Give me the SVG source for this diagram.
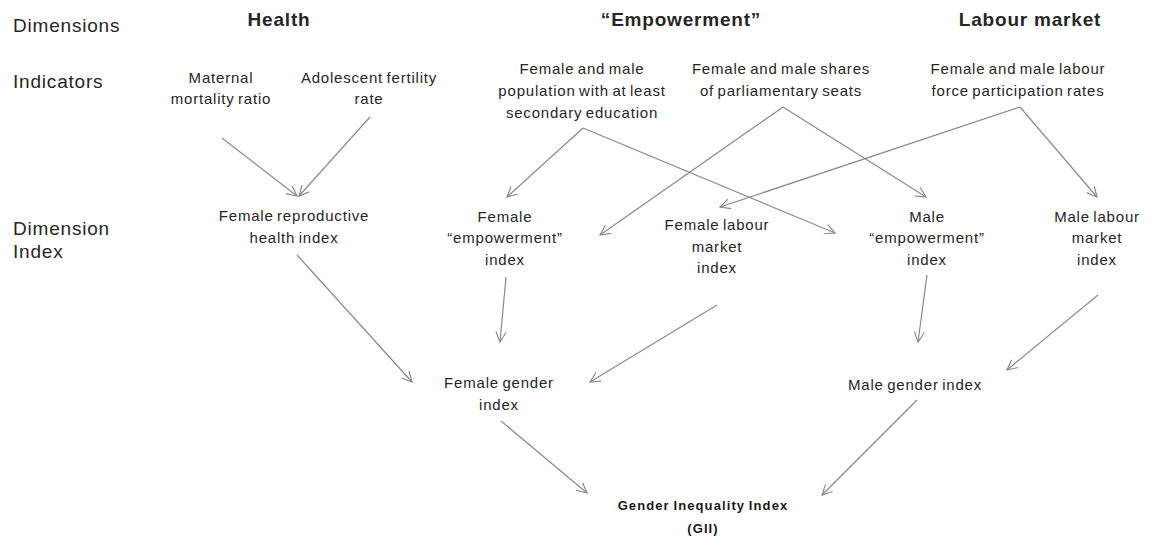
<svg xmlns="http://www.w3.org/2000/svg" width="1150" height="537" viewBox="0 0 1150 537">
<defs>
<style>
text{font-family:"Liberation Sans",Arial,sans-serif;fill:#262626;}
.row{font-size:19px;letter-spacing:0.8px;}
.hd{font-size:19px;font-weight:bold;letter-spacing:0.8px;text-anchor:middle;}
.nd{font-size:15px;letter-spacing:0.8px;word-spacing:-1.5px;text-anchor:middle;}
.gii{font-size:13px;font-weight:bold;letter-spacing:1.1px;word-spacing:-1px;text-anchor:middle;fill:#1a1a1a;}
.c line{stroke:#8a8a8a;stroke-width:1.2;marker-end:url(#ah);}
</style>
<marker id="ah" markerWidth="12" markerHeight="12" refX="11" refY="6" orient="auto" markerUnits="userSpaceOnUse">
<path d="M1,1 L11,6 L1,11" fill="none" stroke="#8a8a8a" stroke-width="1.2"/>
</marker>
</defs>
<rect width="1150" height="537" fill="#fff"/>

<g id="row-labels">
<text class="row" x="13" y="32">Dimensions</text>
<text class="row" x="13" y="88">Indicators</text>
<text class="row" x="13" y="235">Dimension</text>
<text class="row" x="13" y="258">Index</text>
</g>

<g id="dim-health"><text class="hd" x="279" y="26">Health</text></g>
<g id="dim-empowerment"><text class="hd" x="681" y="26">“Empowerment”</text></g>
<g id="dim-labour"><text class="hd" x="1030" y="26">Labour market</text></g>

<g id="ind-maternal">
<text class="nd" x="221" y="83">Maternal</text>
<text class="nd" x="221" y="104">mortality ratio</text>
</g>
<g id="ind-adolescent">
<text class="nd" x="369" y="83">Adolescent fertility</text>
<text class="nd" x="369" y="104">rate</text>
</g>
<g id="ind-education">
<text class="nd" x="582" y="74">Female and male</text>
<text class="nd" x="582" y="96">population with at least</text>
<text class="nd" x="582" y="118">secondary education</text>
</g>
<g id="ind-parliament">
<text class="nd" x="781" y="74">Female and male shares</text>
<text class="nd" x="781" y="96">of parliamentary seats</text>
</g>
<g id="ind-labour">
<text class="nd" x="1018" y="74">Female and male labour</text>
<text class="nd" x="1018" y="96">force participation rates</text>
</g>

<g id="idx-female-health">
<text class="nd" x="294" y="221">Female reproductive</text>
<text class="nd" x="294" y="243">health index</text>
</g>
<g id="idx-female-emp">
<text class="nd" x="505" y="222">Female</text>
<text class="nd" x="505" y="243">“empowerment”</text>
<text class="nd" x="505" y="265">index</text>
</g>
<g id="idx-female-labour">
<text class="nd" x="717" y="230">Female labour</text>
<text class="nd" x="717" y="252">market</text>
<text class="nd" x="717" y="273">index</text>
</g>
<g id="idx-male-emp">
<text class="nd" x="927" y="222">Male</text>
<text class="nd" x="927" y="243">“empowerment”</text>
<text class="nd" x="927" y="265">index</text>
</g>
<g id="idx-male-labour">
<text class="nd" x="1097" y="222">Male labour</text>
<text class="nd" x="1097" y="243">market</text>
<text class="nd" x="1097" y="265">index</text>
</g>

<g id="female-gender">
<text class="nd" x="499" y="388">Female gender</text>
<text class="nd" x="499" y="410">index</text>
</g>
<g id="male-gender">
<text class="nd" x="915" y="390">Male gender index</text>
</g>
<g id="gii">
<text class="gii" x="703" y="510">Gender Inequality Index</text>
<text class="gii" x="703" y="533">(GII)</text>
</g>

<g id="connectors" class="c">
<line x1="222" y1="138" x2="297" y2="196"/>
<line x1="370" y1="117" x2="299" y2="196"/>
<line x1="583" y1="128" x2="507" y2="197"/>
<line x1="583" y1="128" x2="835" y2="233"/>
<line x1="783" y1="107" x2="600" y2="235"/>
<line x1="783" y1="107" x2="926" y2="197"/>
<line x1="1020" y1="107" x2="720" y2="207"/>
<line x1="1020" y1="107" x2="1097" y2="197"/>
<line x1="297" y1="255" x2="412" y2="382"/>
<line x1="506" y1="277" x2="500" y2="342"/>
<line x1="717" y1="305" x2="590" y2="382"/>
<line x1="927" y1="275" x2="918" y2="342"/>
<line x1="1098" y1="295" x2="1007" y2="370"/>
<line x1="501" y1="421" x2="587" y2="493"/>
<line x1="917" y1="400" x2="822" y2="495"/>
</g>
</svg>
